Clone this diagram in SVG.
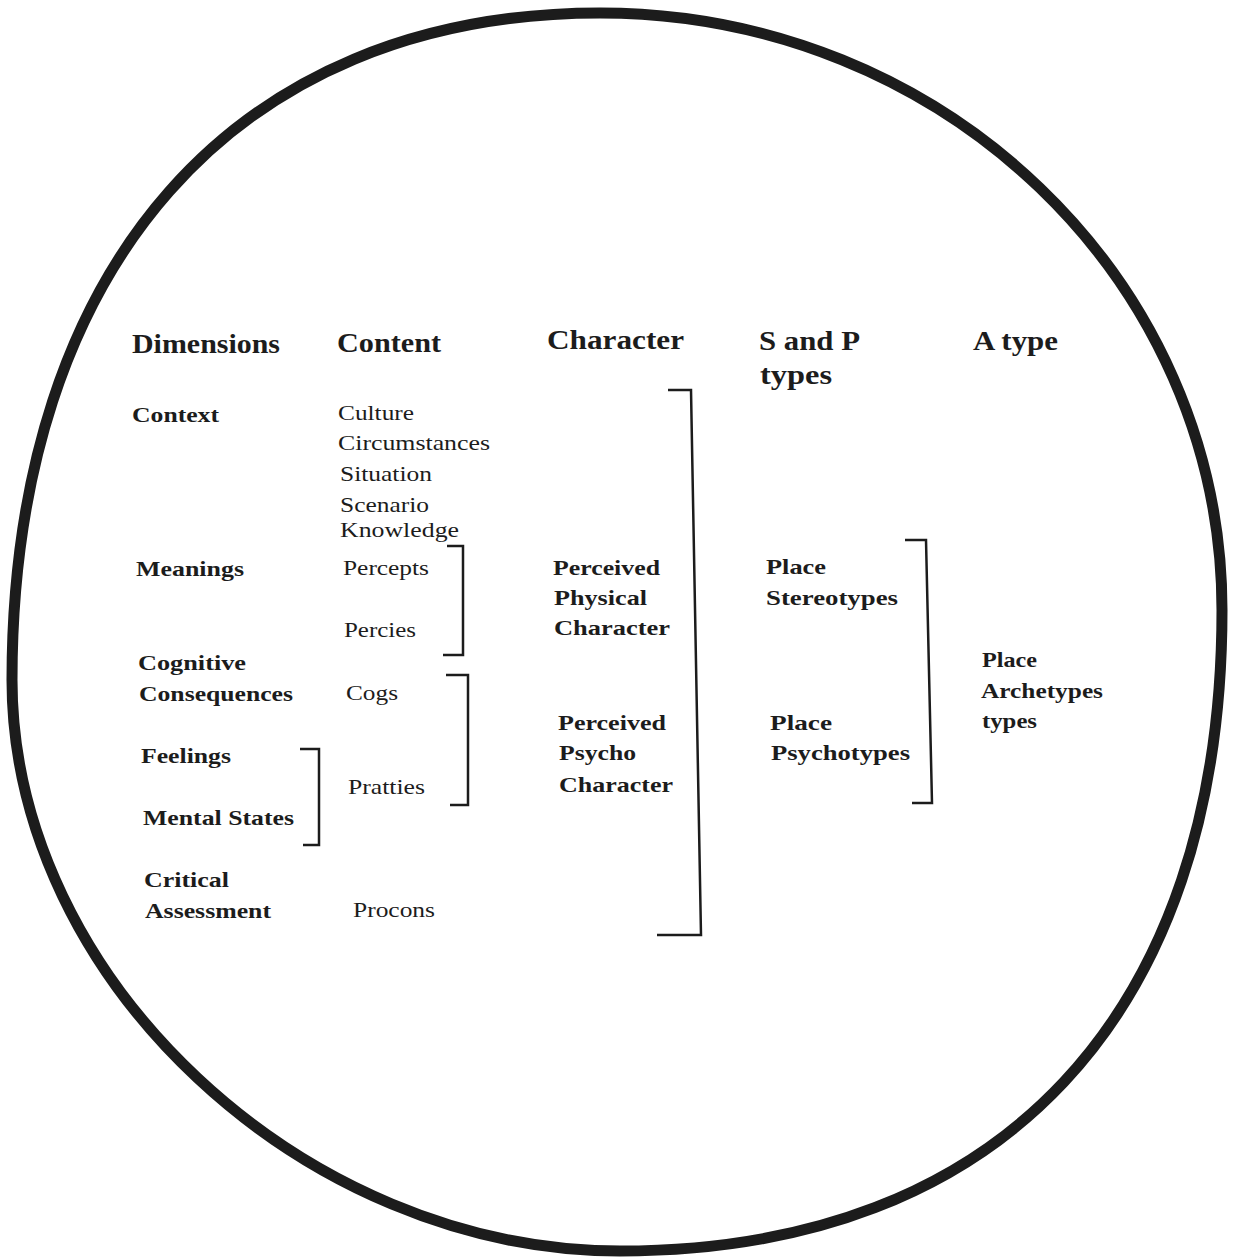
<svg xmlns="http://www.w3.org/2000/svg" width="1242" height="1260" viewBox="0 0 1242 1260">
<style>
text{font-family:"Liberation Serif","Times New Roman",serif;fill:#1c1c1c}
.h{font-size:28px;font-weight:bold}
.b{font-size:22px;font-weight:bold}
.r{font-size:22px}
.br{fill:none;stroke:#1c1c1c;stroke-width:2.5;stroke-linejoin:miter}
</style>
<rect width="1242" height="1260" fill="#ffffff"/>
<g id="outline">
<path d="M600,13 C943.5,13 1222,280.3 1222,610 C1222,1014 1001,1251 620,1251 C304,1251 12,980 12,680 C12,266.5 235.4,13 600,13 Z" fill="none" stroke="#1c1c1c" stroke-width="11"/>
</g>
<g id="headers">
<text class="h" x="132" y="353" textLength="148" lengthAdjust="spacingAndGlyphs">Dimensions</text>
<text class="h" x="337" y="352" textLength="104" lengthAdjust="spacingAndGlyphs">Content</text>
<text class="h" x="547" y="349" textLength="137" lengthAdjust="spacingAndGlyphs">Character</text>
<text class="h" x="759" y="350" textLength="101" lengthAdjust="spacingAndGlyphs">S and P</text>
<text class="h" x="760" y="384" textLength="72" lengthAdjust="spacingAndGlyphs">types</text>
<text class="h" x="973" y="350" textLength="85" lengthAdjust="spacingAndGlyphs">A type</text>
</g>
<g id="dimensions">
<text class="b" x="132" y="422" textLength="87" lengthAdjust="spacingAndGlyphs">Context</text>
<text class="b" x="136" y="576" textLength="108" lengthAdjust="spacingAndGlyphs">Meanings</text>
<text class="b" x="138" y="670" textLength="108" lengthAdjust="spacingAndGlyphs">Cognitive</text>
<text class="b" x="139" y="701" textLength="154" lengthAdjust="spacingAndGlyphs">Consequences</text>
<text class="b" x="141" y="763" textLength="90" lengthAdjust="spacingAndGlyphs">Feelings</text>
<text class="b" x="143" y="825" textLength="151" lengthAdjust="spacingAndGlyphs">Mental States</text>
<text class="b" x="144" y="887" textLength="85" lengthAdjust="spacingAndGlyphs">Critical</text>
<text class="b" x="145" y="918" textLength="126" lengthAdjust="spacingAndGlyphs">Assessment</text>
</g>
<g id="content">
<text class="r" x="338" y="420" textLength="76" lengthAdjust="spacingAndGlyphs">Culture</text>
<text class="r" x="338" y="450" textLength="152" lengthAdjust="spacingAndGlyphs">Circumstances</text>
<text class="r" x="340" y="481" textLength="92" lengthAdjust="spacingAndGlyphs">Situation</text>
<text class="r" x="340" y="512" textLength="89" lengthAdjust="spacingAndGlyphs">Scenario</text>
<text class="r" x="340" y="537" textLength="119" lengthAdjust="spacingAndGlyphs">Knowledge</text>
<text class="r" x="343" y="575" textLength="86" lengthAdjust="spacingAndGlyphs">Percepts</text>
<text class="r" x="344" y="637" textLength="72" lengthAdjust="spacingAndGlyphs">Percies</text>
<text class="r" x="346" y="700" textLength="52" lengthAdjust="spacingAndGlyphs">Cogs</text>
<text class="r" x="348" y="794" textLength="77" lengthAdjust="spacingAndGlyphs">Pratties</text>
<text class="r" x="353" y="917" textLength="82" lengthAdjust="spacingAndGlyphs">Procons</text>
</g>
<g id="character">
<text class="b" x="553" y="575" textLength="107" lengthAdjust="spacingAndGlyphs">Perceived</text>
<text class="b" x="554" y="605" textLength="93" lengthAdjust="spacingAndGlyphs">Physical</text>
<text class="b" x="554" y="635" textLength="116" lengthAdjust="spacingAndGlyphs">Character</text>
<text class="b" x="558" y="730" textLength="108" lengthAdjust="spacingAndGlyphs">Perceived</text>
<text class="b" x="559" y="760" textLength="77" lengthAdjust="spacingAndGlyphs">Psycho</text>
<text class="b" x="559" y="792" textLength="114" lengthAdjust="spacingAndGlyphs">Character</text>
</g>
<g id="sp-types">
<text class="b" x="766" y="574" textLength="60" lengthAdjust="spacingAndGlyphs">Place</text>
<text class="b" x="766" y="605" textLength="132" lengthAdjust="spacingAndGlyphs">Stereotypes</text>
<text class="b" x="770" y="730" textLength="62" lengthAdjust="spacingAndGlyphs">Place</text>
<text class="b" x="771" y="760" textLength="139" lengthAdjust="spacingAndGlyphs">Psychotypes</text>
</g>
<g id="a-type">
<text class="b" x="982" y="667" textLength="55" lengthAdjust="spacingAndGlyphs">Place</text>
<text class="b" x="981" y="698" textLength="122" lengthAdjust="spacingAndGlyphs">Archetypes</text>
<text class="b" x="982" y="728" textLength="55" lengthAdjust="spacingAndGlyphs">types</text>
</g>
<g id="connectors">
<polyline class="br" points="447,546 463,546 463,655 443,655"/>
<polyline class="br" points="446,675 468,675 468,805 450,805"/>
<polyline class="br" points="300,749 319,749 319,845 303,845"/>
<polyline class="br" points="668,390 691,390 701,935 657,935"/>
<polyline class="br" points="905,540 926,540 932,803 912,803"/>
</g>
</svg>
